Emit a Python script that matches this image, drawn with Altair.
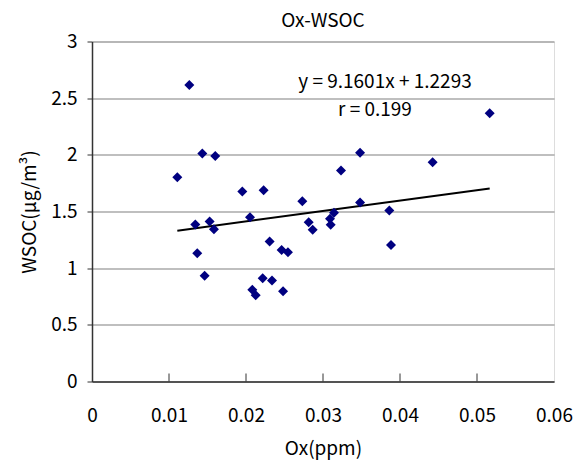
import altair as alt
import pandas as pd

ox = [0.01264, 0.01433, 0.01601, 0.01108, 0.01952, 0.02229, 0.02731, 0.05165,
      0.03481, 0.03234, 0.04424, 0.03481, 0.03861, 0.01342, 0.01528, 0.01584,
      0.02052, 0.01367, 0.01463, 0.02307, 0.02463, 0.02545, 0.02082, 0.02126,
      0.02217, 0.02338, 0.02481, 0.02814, 0.02866, 0.03091, 0.03100, 0.03143,
      0.03883]
wsoc = [2.616, 2.011, 1.990, 1.802, 1.676, 1.688, 1.591, 2.367,
        2.019, 1.861, 1.935, 1.579, 1.508, 1.385, 1.411, 1.344,
        1.450, 1.132, 0.932, 1.235, 1.161, 1.141, 0.809, 0.762,
        0.912, 0.891, 0.797, 1.406, 1.338, 1.435, 1.382, 1.490,
        1.205]
slope = 9.1601
intercept = 1.2293
eq_lines = ["y = 9.1601x + 1.2293", "r = 0.199"]
eq_x = [0.03805, 0.03675]
eq_y = [2.643, 2.396]
x_ticks = [0, 0.01, 0.02, 0.03, 0.04, 0.05, 0.06]
y_ticks = [0, 0.5, 1, 1.5, 2, 2.5, 3]

FONT = "Noto Sans CJK JP"
FS = 19

df = pd.DataFrame({"ox": ox, "wsoc": wsoc})
xmin, xmax = min(ox), max(ox)
trend = pd.DataFrame({"ox": [xmin, xmax],
                      "wsoc": [slope * xmin + intercept, slope * xmax + intercept]})
eq = pd.DataFrame({"t": eq_lines, "x": eq_x, "y": eq_y})
ticks_df = pd.DataFrame({"ox": x_ticks[1:-1]})

xscale = alt.Scale(domain=[0, 0.06], nice=False, zero=False)
yscale = alt.Scale(domain=[0, 3], nice=False)

xaxis = alt.Axis(title="Ox(ppm)", values=x_ticks, grid=False, ticks=False,
                 labelPadding=25, labelFontSize=FS, titleFontSize=FS,
                 titleFontWeight="normal", titlePadding=14,
                 labelFont=FONT, titleFont=FONT, domainColor="#333333",
                 domainWidth=1.5, labelColor="black", titleColor="black",
                 format="~g", labelFlush=False)
yaxis = alt.Axis(title="WSOC(μg/m³)", values=y_ticks, grid=True, gridColor="#808080",
                 gridWidth=1.2, tickSize=5, labelPadding=10, labelFontSize=FS,
                 titleFontSize=FS, titleFontWeight="normal", labelFont=FONT,
                 titleFont=FONT, domainColor="#333333", domainWidth=1.5,
                 tickColor="#333333", labelColor="black", titleColor="black",
                 format="~g", titleX=-63, titleAngle=-90,
                 titleBaseline="middle", titleAlign="center")

points = alt.Chart(df).mark_point(shape="diamond", filled=True, size=100,
                                   color="#000080", opacity=1).encode(
    x=alt.X("ox:Q", scale=xscale, axis=xaxis),
    y=alt.Y("wsoc:Q", scale=yscale, axis=yaxis),
)

xticks = alt.Chart(ticks_df).mark_rule(color="#333333", strokeWidth=1).encode(
    x=alt.X("ox:Q", scale=xscale),
    y=alt.value(332), y2=alt.value(340),
)

line = alt.Chart(trend).mark_line(color="black", strokeWidth=2).encode(
    x=alt.X("ox:Q", scale=xscale),
    y=alt.Y("wsoc:Q", scale=yscale),
)

text = alt.Chart(eq).mark_text(fontSize=FS, font=FONT, color="black",
                               align="center", baseline="middle").encode(
    x=alt.X("x:Q", scale=xscale),
    y=alt.Y("y:Q", scale=yscale),
    text="t:N",
)

chart = (xticks + line + points + text).properties(
    width=462, height=340,
    title=alt.TitleParams("Ox-WSOC", fontSize=FS, font=FONT, fontWeight="normal",
                          color="black", anchor="middle", offset=2),
    autosize=alt.AutoSizeParams(type="none"),
    padding={"left": 84, "top": 33.5, "right": 21, "bottom": 78},
).configure_view(stroke="#999999", strokeWidth=1.5).configure(background="white")

chart.save("out.html", embed_options={"renderer": "svg", "actions": False})
